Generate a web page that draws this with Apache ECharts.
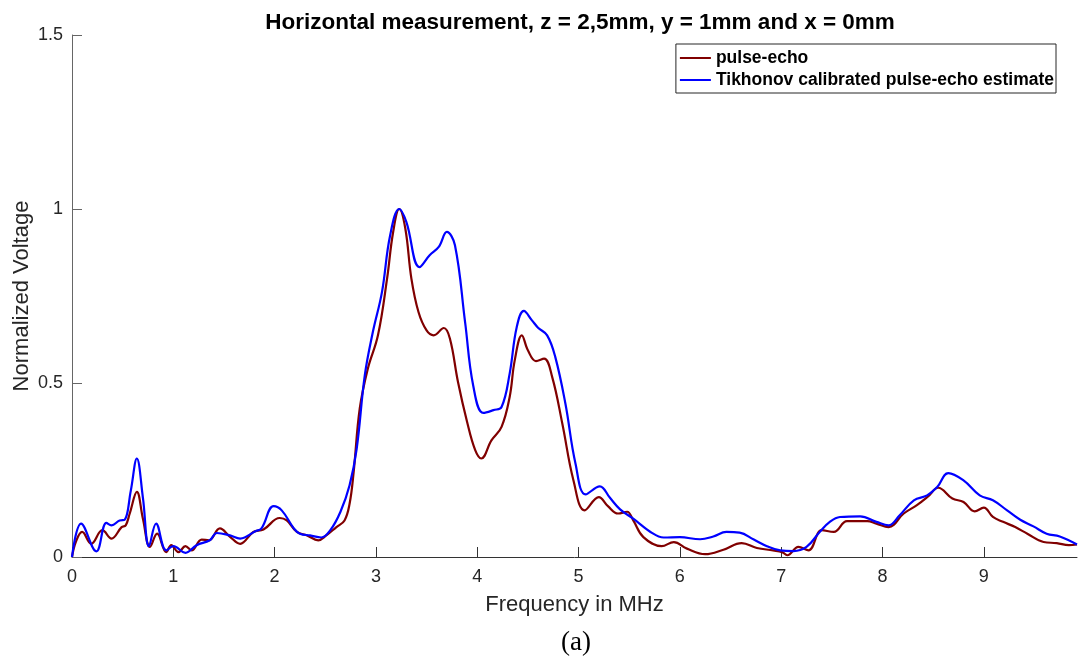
<!DOCTYPE html>
<html>
<head>
<meta charset="utf-8">
<script src="https://cdn.jsdelivr.net/npm/echarts@6/dist/echarts.min.js"></script>
<style>
  html, body { margin: 0; padding: 0; background: #fff; }
  #chart { width: 1078px; height: 663px; }
</style>
</head>
<body>
<div id="chart"></div>
<script>
// Frequency axis tick labels (MHz) and voltage ticks
const xTicks = [0, 1, 2, 3, 4, 5, 6, 7, 8, 9];
const yTicks = [0, 0.5, 1, 1.5];

// pulse-echo spectrum
const pulseFreq = [0, 0.04, 0.10, 0.19, 0.30, 0.39, 0.49, 0.53, 0.57, 0.64, 0.70, 0.77, 0.84, 0.93, 0.98, 1.05, 1.12, 1.18, 1.28, 1.35,
  1.46, 1.56, 1.66, 1.79, 1.89, 2.05, 2.12, 2.22, 2.32, 2.43, 2.51, 2.61, 2.69, 2.74, 2.78, 2.84, 2.92, 3.02, 3.11, 3.17,
  3.23, 3.29, 3.35, 3.42, 3.50, 3.57, 3.67, 3.73, 3.81, 3.90, 3.98, 4.04, 4.14, 4.24, 4.32, 4.37, 4.44, 4.50, 4.58, 4.66,
  4.74, 4.84, 4.95, 5.06, 5.20, 5.29, 5.39, 5.48, 5.54, 5.64, 5.82, 5.94, 6.07, 6.25, 6.43, 6.61, 6.76, 6.92, 7.01, 7.06,
  7.17, 7.27, 7.40, 7.52, 7.65, 7.85, 7.94, 8.06, 8.21, 8.34, 8.45, 8.55, 8.69, 8.80, 8.91, 9.00, 9.09, 9.19, 9.31, 9.43,
  9.59, 9.72, 9.84, 9.92];
const pulseValues = [0, 0.045, 0.072, 0.038, 0.077, 0.053, 0.086, 0.091, 0.125, 0.187, 0.11, 0.029, 0.067, 0.014, 0.034, 0.014, 0.031, 0.019, 0.05, 0.048,
  0.082, 0.058, 0.038, 0.072, 0.079, 0.112, 0.105, 0.072, 0.062, 0.048, 0.062, 0.086, 0.105, 0.153, 0.244, 0.426, 0.541, 0.637, 0.80, 0.934,
  1.0, 0.944, 0.80, 0.704, 0.651, 0.637, 0.658, 0.628, 0.503, 0.388, 0.307, 0.283, 0.335, 0.374, 0.46, 0.565, 0.637, 0.594, 0.563, 0.570,
  0.517, 0.383, 0.220, 0.134, 0.172, 0.146, 0.125, 0.13, 0.105, 0.057, 0.031, 0.043, 0.024, 0.008, 0.021, 0.040, 0.026, 0.019, 0.014, 0.005,
  0.029, 0.019, 0.077, 0.072, 0.103, 0.103, 0.096, 0.086, 0.125, 0.149, 0.174, 0.199, 0.168, 0.158, 0.131, 0.142, 0.115, 0.101, 0.086, 0.067,
  0.043, 0.040, 0.034, 0.036];

// Tikhonov calibrated pulse-echo estimate
const tikFreq = [0, 0.09, 0.24, 0.34, 0.39, 0.47, 0.52, 0.58, 0.64, 0.70, 0.76, 0.83, 0.93, 1.0, 1.12, 1.23, 1.36, 1.43, 1.56, 1.66,
  1.81, 1.87, 1.99, 2.07, 2.19, 2.25, 2.35, 2.46, 2.55, 2.65, 2.74, 2.81, 2.89, 2.97, 3.06, 3.14, 3.23, 3.30, 3.43, 3.53,
  3.62, 3.70, 3.78, 3.88, 3.96, 4.06, 4.16, 4.24, 4.32, 4.39, 4.46, 4.54, 4.60, 4.69, 4.77, 4.87, 4.97, 5.07, 5.21, 5.31,
  5.41, 5.54, 5.71, 5.84, 6.0, 6.20, 6.33, 6.46, 6.59, 6.73, 6.86, 6.99, 7.12, 7.25, 7.38, 7.48, 7.58, 7.78, 7.94, 8.06,
  8.17, 8.31, 8.44, 8.54, 8.65, 8.80, 8.96, 9.09, 9.23, 9.36, 9.49, 9.62, 9.75, 9.92];
const tikValues = [0, 0.096, 0.016, 0.098, 0.091, 0.105, 0.107, 0.19, 0.283, 0.17, 0.031, 0.096, 0.019, 0.031, 0.012, 0.034, 0.048, 0.069, 0.062, 0.053,
  0.074, 0.082, 0.146, 0.134, 0.082, 0.067, 0.062, 0.056, 0.077, 0.13, 0.206, 0.311, 0.522, 0.647, 0.762, 0.924, 1.0, 0.963, 0.833, 0.867,
  0.891, 0.934, 0.896, 0.675, 0.493, 0.414, 0.422, 0.431, 0.527, 0.661, 0.707, 0.680, 0.659, 0.637, 0.575, 0.441, 0.268, 0.18, 0.203, 0.170,
  0.137, 0.110, 0.072, 0.056, 0.057, 0.051, 0.059, 0.072, 0.070, 0.050, 0.031, 0.019, 0.017, 0.029, 0.072, 0.101, 0.115, 0.117, 0.101, 0.091,
  0.120, 0.163, 0.177, 0.201, 0.241, 0.220, 0.177, 0.163, 0.134, 0.107, 0.088, 0.067, 0.059, 0.036];

const pairs = (xs, ys) => xs.map((x, i) => [x, ys[i]]);

const SANS = '"Liberation Sans", Arial, Helvetica, sans-serif';
const TEXT_COLOR = '#262626';

const chart = echarts.init(document.getElementById('chart'), null, { renderer: 'canvas' });

chart.setOption({
  animation: false,
  backgroundColor: '#ffffff',
  title: {
    text: 'Horizontal measurement, z = 2,5mm, y = 1mm and x = 0mm',
    left: 575,
    top: 6,
    textAlign: 'center',
    textStyle: { fontFamily: SANS, fontSize: 22.5, fontWeight: 'bold', color: '#000' }
  },
  legend: {
    orient: 'vertical',
    right: 22,
    top: 44,
    padding: [4, 2, 3, 4],
    itemGap: 2,
    itemWidth: 31,
    itemHeight: 2,
    itemTextGap: 4,
    icon: 'rect',
    backgroundColor: '#fff',
    borderColor: '#262626',
    borderWidth: 1,
    borderRadius: 0,
    textStyle: { fontFamily: SANS, fontSize: 17.5, fontWeight: 'bold', color: '#000', lineHeight: 20 },
    data: ['pulse-echo', 'Tikhonov calibrated pulse-echo estimate']
  },
  grid: { left: 72, right: 1, top: 35, bottom: 106, outerBoundsMode: 'none' },
  xAxis: {
    type: 'value',
    min: 0,
    max: 9.92,
    interval: 1,
    name: 'Frequency in MHz',
    nameLocation: 'middle',
    nameGap: 37,
    nameMoveOverlap: false,
    nameTextStyle: { fontFamily: SANS, fontSize: 22, color: TEXT_COLOR },
    axisLine: { lineStyle: { color: '#333', width: 1 } },
    axisTick: { inside: true, length: 10, lineStyle: { color: '#333' }, customValues: xTicks },
    axisLabel: { fontFamily: SANS, fontSize: 18, color: TEXT_COLOR, margin: 11, customValues: xTicks },
    splitLine: { show: false }
  },
  yAxis: {
    type: 'value',
    min: 0,
    max: 1.5,
    interval: 0.5,
    name: 'Normalized Voltage',
    nameLocation: 'middle',
    nameGap: 39,
    nameMoveOverlap: false,
    nameTextStyle: { fontFamily: SANS, fontSize: 22, color: TEXT_COLOR },
    axisLine: { show: true, lineStyle: { color: '#666', width: 1 } },
    axisTick: { show: true, inside: true, length: 10, lineStyle: { color: '#666' }, customValues: yTicks },
    axisLabel: { fontFamily: SANS, fontSize: 18, color: TEXT_COLOR, margin: 9, customValues: yTicks },
    splitLine: { show: false }
  },
  series: [
    {
      name: 'pulse-echo',
      type: 'line',
      data: pairs(pulseFreq, pulseValues),
      smooth: 0.4,
      showSymbol: false,
      symbol: 'none',
      itemStyle: { color: '#800000' },
      lineStyle: { color: '#800000', width: 2.2 },
      z: 2
    },
    {
      name: 'Tikhonov calibrated pulse-echo estimate',
      type: 'line',
      data: pairs(tikFreq, tikValues),
      smooth: 0.4,
      showSymbol: false,
      symbol: 'none',
      itemStyle: { color: '#0000ff' },
      lineStyle: { color: '#0000ff', width: 2.2 },
      z: 3
    }
  ],
  graphic: [
    {
      type: 'text',
      x: 576,
      y: 643,
      style: {
        text: '(a)',
        fontFamily: '"Liberation Serif", "DejaVu Serif", serif',
        fontSize: 27,
        fill: '#000',
        align: 'center',
        verticalAlign: 'middle'
      }
    }
  ]
});
</script>
</body>
</html>
